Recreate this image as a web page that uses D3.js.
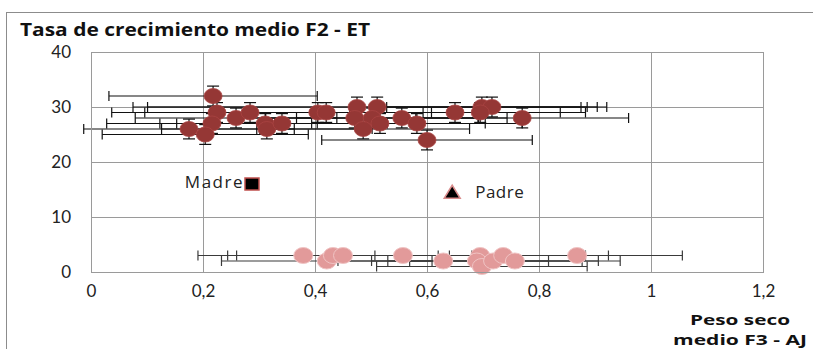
<!DOCTYPE html>
<html>
<head>
<meta charset="utf-8">
<script src="https://cdn.jsdelivr.net/npm/d3@7"></script>
<style>
  body { margin: 0; background: #fff; }
  text { font-family: "Open Sans", Lato, sans-serif; }
</style>
</head>
<body>
<div id="chart-area"></div>
<script>
// F2 - ET (dark red) : peso seco x, tasa y, error bars
var f2X    = [0.218, 0.225, 0.259, 0.284, 0.216, 0.175, 0.204, 0.311, 0.314, 0.341, 0.405, 0.420, 0.475,
              0.511, 0.471, 0.502, 0.486, 0.516, 0.555, 0.582, 0.600, 0.650, 0.698, 0.716, 0.695, 0.770];
var f2Y    = [32, 29, 28, 29, 27, 26, 25, 27, 26, 27, 29, 29, 30,
              30, 28, 28, 26, 27, 28, 27, 24, 29, 30, 30, 29, 28];
var f2XErr = [0.186, 0.188, 0.18, 0.188, 0.188, 0.188, 0.184, 0.188, 0.188, 0.188, 0.188, 0.188, 0.40,
              0.41, 0.22, 0.19, 0.19, 0.188, 0.188, 0.188, 0.188, 0.188, 0.188, 0.188, 0.188, 0.19];
var f2YErr = 1.8;

// F3 - AJ (pink)
var f3X    = [0.379, 0.421, 0.432, 0.450, 0.557, 0.629, 0.695, 0.689, 0.698, 0.718, 0.736, 0.757, 0.868];
var f3Y    = [3, 2, 3, 3, 3, 2, 3, 2, 1, 2, 3, 2, 3];
var f3XErr = [0.188, 0.188, 0.188, 0.19, 0.188, 0.188, 0.188, 0.188, 0.188, 0.188, 0.188, 0.188, 0.188];

// parents
var madre = {x: 0.2875, y: 16, label: "Madre"};
var padre = {x: 0.645, y: 14.5, label: "Padre"};

var xTicks = [0, 0.2, 0.4, 0.6, 0.8, 1, 1.2];
var yTicks = [0, 10, 20, 30, 40];

var margin = {left: 91, top: 52};
var width = 672, height = 220;

var svg = d3.select("#chart-area")
    .append("svg")
        .attr("width", 813)
        .attr("height", 349);

// outer chart frame
svg.append("rect")
    .attr("x", 6.5).attr("y", 12.5)
    .attr("width", 900).attr("height", 400)
    .attr("fill", "none")
    .attr("stroke", "#8c8c8c");

svg.append("text")
    .attr("x", 20).attr("y", 36)
    .attr("font-size", "18px")
    .attr("font-weight", "bold")
    .attr("fill", "#111")
    .attr("textLength", 350)
    .attr("lengthAdjust", "spacingAndGlyphs")
    .text("Tasa de crecimiento medio F2 - ET");

var g = svg.append("g")
    .attr("transform", "translate(" + margin.left + "," + margin.top + ")");

var x = d3.scaleLinear().domain([0, 1.2]).range([0, width]);
var y = d3.scaleLinear().domain([0, 40]).range([height, 0]);

var fmt = function(d){ return String(d).replace(".", ","); };

// grid
g.selectAll(".vgrid").data(xTicks).enter().append("line")
    .attr("x1", function(d){ return Math.round(x(d)) + 0.5; })
    .attr("x2", function(d){ return Math.round(x(d)) + 0.5; })
    .attr("y1", 0).attr("y2", height)
    .attr("stroke", "#9a9a9a");
g.selectAll(".hgrid").data(yTicks).enter().append("line")
    .attr("y1", function(d){ return Math.round(y(d)) + 0.5; })
    .attr("y2", function(d){ return Math.round(y(d)) + 0.5; })
    .attr("x1", 0).attr("x2", width)
    .attr("stroke", "#9a9a9a");

// axes (labels only)
var xAxisCall = d3.axisBottom(x).tickValues(xTicks).tickFormat(fmt).tickSize(0).tickPadding(13);
var xAxis = g.append("g").attr("transform", "translate(0," + height + ")").call(xAxisCall);
xAxis.select(".domain").remove();
xAxis.selectAll("text").attr("font-size", "17px").attr("fill", "#222")
    .style("font-family", "Lato, sans-serif");

var yAxisCall = d3.axisLeft(y).tickValues(yTicks).tickSize(0).tickPadding(20);
var yAxis = g.append("g").call(yAxisCall);
yAxis.select(".domain").remove();
yAxis.selectAll("text").attr("font-size", "17px").attr("fill", "#222")
    .style("font-family", "Lato, sans-serif");

// axis title
svg.append("text")
    .attr("x", 740).attr("y", 325)
    .attr("text-anchor", "middle")
    .attr("font-size", "14.5px").attr("font-weight", "bold").attr("fill", "#111")
    .attr("textLength", 100).attr("lengthAdjust", "spacingAndGlyphs")
    .text("Peso seco");
svg.append("text")
    .attr("x", 740).attr("y", 345)
    .attr("text-anchor", "middle")
    .attr("font-size", "14.5px").attr("font-weight", "bold").attr("fill", "#111")
    .attr("textLength", 134).attr("lengthAdjust", "spacingAndGlyphs")
    .text("medio F3 - AJ");

function errorBarsX(data, color, cap) {
    var eb = g.append("g").attr("stroke", color).attr("stroke-width", 1.2);
    data.forEach(function(d){
        var x1 = x(d.x - d.ex), x2 = x(d.x + d.ex), yy = y(d.y);
        eb.append("line").attr("x1", x1).attr("x2", x2).attr("y1", yy).attr("y2", yy);
        eb.append("line").attr("x1", x1).attr("x2", x1).attr("y1", yy - cap).attr("y2", yy + cap);
        eb.append("line").attr("x1", x2).attr("x2", x2).attr("y1", yy - cap).attr("y2", yy + cap);
    });
}

var f2 = f2X.map(function(v, i){ return {x: v, y: f2Y[i], ex: f2XErr[i], ey: f2YErr}; });
var f3 = f3X.map(function(v, i){ return {x: v, y: f3Y[i], ex: f3XErr[i]}; });

errorBarsX(f3, "#3a3a3a", 5);
errorBarsX(f2, "#111", 5);

// vertical error bars F2
var ev = g.append("g").attr("stroke", "#111").attr("stroke-width", 1.2);
f2.forEach(function(d){
    var xx = x(d.x), y1 = y(d.y + d.ey), y2 = y(d.y - d.ey);
    ev.append("line").attr("x1", xx).attr("x2", xx).attr("y1", y1).attr("y2", y2);
    ev.append("line").attr("x1", xx - 6).attr("x2", xx + 6).attr("y1", y1).attr("y2", y1);
    ev.append("line").attr("x1", xx - 6).attr("x2", xx + 6).attr("y1", y2).attr("y2", y2);
});

g.selectAll(".f3").data(f3).enter().append("ellipse")
    .attr("cx", function(d){ return x(d.x); })
    .attr("cy", function(d){ return y(d.y); })
    .attr("rx", 9.5).attr("ry", 8)
    .attr("fill", "#e29a9a")
    .attr("stroke", "#f0c4c4").attr("stroke-width", 1);

g.selectAll(".f2").data(f2).enter().append("ellipse")
    .attr("cx", function(d){ return x(d.x); })
    .attr("cy", function(d){ return y(d.y); })
    .attr("rx", 9).attr("ry", 7.5)
    .attr("fill", "#953735")
    .attr("stroke", "#a94442").attr("stroke-width", 0.8);

// Madre
g.append("rect")
    .attr("x", x(madre.x) - 7).attr("y", y(madre.y) - 6)
    .attr("width", 14).attr("height", 12)
    .attr("fill", "#000").attr("stroke", "#c0504d").attr("stroke-width", 1.5);
g.append("text")
    .attr("x", x(madre.x) - 8).attr("y", y(madre.y) + 4)
    .attr("text-anchor", "end")
    .attr("font-size", "17px").attr("fill", "#222")
    .attr("letter-spacing", "1.5px")
    .text(madre.label);

// Padre
var px = x(padre.x), py = y(padre.y);
g.append("path")
    .attr("d", "M" + px + "," + (py - 7) + "L" + (px + 8) + "," + (py + 6) + "L" + (px - 8) + "," + (py + 6) + "Z")
    .attr("fill", "#000").attr("stroke", "#d98b8b").attr("stroke-width", 1.5);
g.append("text")
    .attr("x", px + 23).attr("y", py + 6)
    .attr("font-size", "17px").attr("fill", "#222")
    .attr("letter-spacing", "0.5px")
    .text(padre.label);

// plot frame on top
g.append("rect")
    .attr("x", 0.5).attr("y", 0.5)
    .attr("width", width).attr("height", height)
    .attr("fill", "none").attr("stroke", "#9a9a9a");
</script>
</body>
</html>
